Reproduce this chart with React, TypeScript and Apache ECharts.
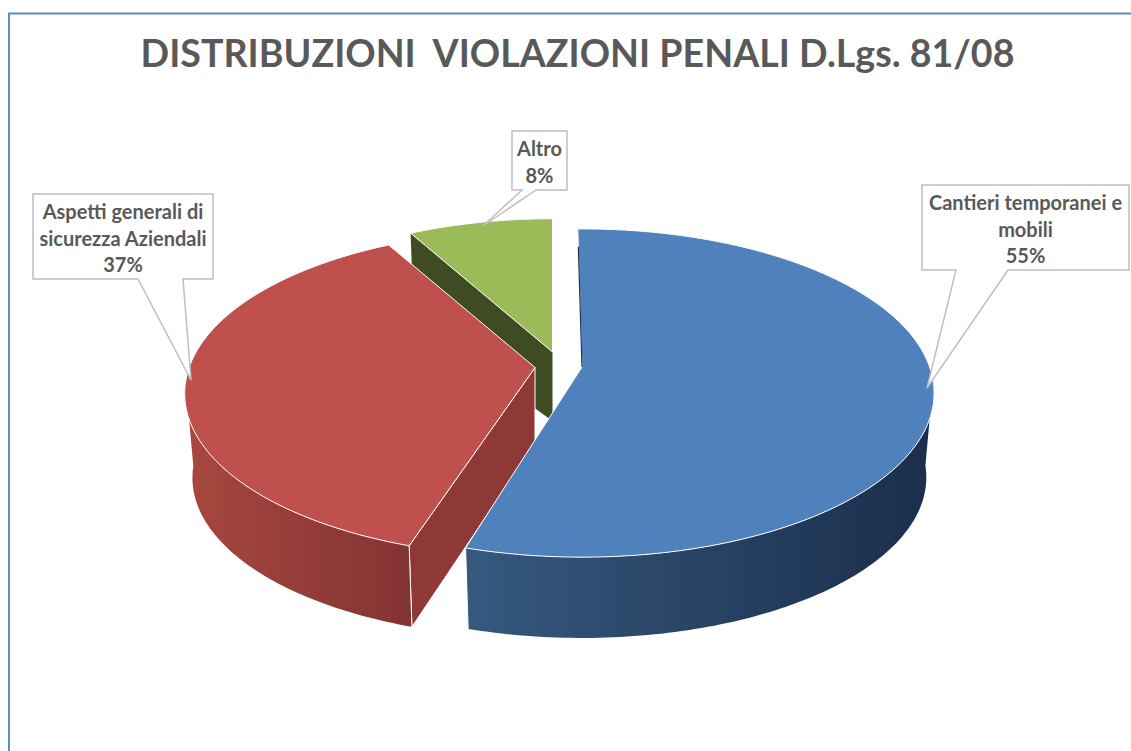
import React, { useEffect, useRef } from "react";
import * as echarts from "echarts";

const titleText = "DISTRIBUZIONI  VIOLAZIONI PENALI D.Lgs. 81/08";
const categories = ["Cantieri temporanei e\nmobili", "Aspetti generali di\nsicurezza Aziendali", "Altro"];
const shares = [55, 37, 8];

const FONT = "Lato";
const TEXT = "#595959";
const topColors = ["#4F81BD", "#C0504D", "#9BBB59"];
const sideColors = [["#36597F", "#1A2E4A"], ["#A8473F", "#833333"], ["#3F4B23", "#3F4B23"]];
const cutColors = ["#1C3150", "#8E3936", "#3F4B23"];

// Projection of the pie: each exploded slice has its own apex on the page.
const apexes = [[582, 367], [535, 367.5], [552.5, 352]];
const scales = [1, 0.995, 0.965];
const apexDrops = [78, 76, 69];
// Small visual trim of a slice's edges, in degrees.
const trims = [[-0.8, -1.5], [0, 0], [0, 0]];
const RX = 347.6, RY = 160, PERSPECTIVE = 0.1585, ARC_DROP = 85, BOTTOM_SCALE = 0.978;

// Visible part of the outer wall, in degrees clockwise from the top.
const wallFrom = [95, 198, 0];
const wallTo = [196.5, 265, 0];

// Callouts: box [x, y, w, h], pointer base x0, x1 and tip.
const boxes = [[922, 185, 207, 85], [33, 194, 180, 85], [512, 131, 55, 59]];
const pointers = [[956, 1008, 927, 388], [138, 183, 191, 380], [522, 536, 483, 226]];

const total = shares.reduce((a, b) => a + b, 0);
const startAngles = shares.map((_, i) => (shares.slice(0, i).reduce((a, b) => a + b, 0) / total) * 360);
const endAngles = shares.map((v, i) => startAngles[i] + (v / total) * 360);

function project(i: number, deg: number, bottom: boolean): number[] {
  const t = (deg * Math.PI) / 180;
  const u = Math.sin(t), v = Math.cos(t);
  const d = 1 + PERSPECTIVE * v;
  const f = scales[i] * (bottom ? BOTTOM_SCALE : 1);
  return [
    apexes[i][0] + (f * RX * u) / d,
    apexes[i][1] + (bottom ? ARC_DROP : 0) - (f * RY * v) / d,
  ];
}
function arc(i: number, a: number, b: number, bottom: boolean): number[][] {
  const n = Math.max(2, Math.ceil(Math.abs(b - a)));
  const pts: number[][] = [];
  for (let k = 0; k <= n; k++) pts.push(project(i, a + ((b - a) * k) / n, bottom));
  return pts;
}

function renderSlice(_: any, api: any) {
  const i = api.value(0) as number;
  const from = startAngles[i] + trims[i][0];
  const to = endAngles[i] + trims[i][1];
  const apex = apexes[i];
  const apexLow = [apex[0], apex[1] + apexDrops[i]];
  const children: any[] = [];
  // cut face seen from the front
  if (i > 0) {
    children.push({
      type: "polygon",
      shape: { points: [project(i, from, false), apex, apexLow, project(i, from, true)] },
      style: { fill: cutColors[i], stroke: "#FFFFFF", lineWidth: i === 1 ? 1 : 0 },
    });
  }
  // outer wall
  if (wallTo[i] > wallFrom[i]) {
    const pts = [...arc(i, wallFrom[i], wallTo[i], false), ...arc(i, wallTo[i], wallFrom[i], true)];
    children.push({
      type: "polygon",
      shape: { points: pts },
      style: {
        fill: new echarts.graphic.LinearGradient(0, 0, 1, 0, [
          { offset: 0, color: sideColors[i][0] },
          { offset: 1, color: sideColors[i][1] },
        ]),
      },
    });
    const seamAngle = i === 0 ? to : from;
    children.push({
      type: "polyline",
      shape: { points: [project(i, seamAngle, false), project(i, seamAngle, true)] },
      style: { stroke: "#FFFFFF", lineWidth: 1, fill: "none" },
    });
  }
  // top face
  children.push({
    type: "polygon",
    shape: { points: [apex, ...arc(i, from, to, false)] },
    style: { fill: topColors[i], stroke: "#FFFFFF", lineWidth: 1 },
  });
  if (i === 0) {
    const top = project(i, from, false);
    const f = 0.87;
    children.push({
      type: "polyline",
      shape: { points: [apex, [apex[0] + (top[0] - apex[0]) * f, apex[1] + (top[1] - apex[1]) * f]] },
      style: { stroke: cutColors[0], lineWidth: 1.2, fill: "none" },
    });
  }
  return { type: "group", children };
}

function renderCallout(_: any, api: any) {
  const i = api.value(0) as number;
  const [x, y, w, h] = boxes[i];
  const [b0, b1, tx, ty] = pointers[i];
  const yB = y + h;
  const outline = [[x, y], [x + w, y], [x + w, yB], [b1, yB], [tx, ty], [b0, yB], [x, yB]];
  const label = `${categories[i]}\n${shares[i]}%`;
  return {
    type: "group",
    children: [
      { type: "polygon", shape: { points: outline }, style: { fill: "#FFFFFF", stroke: "#BFBFBF", lineWidth: 1.5 } },
      {
        type: "text",
        style: {
          text: label,
          x: x + w / 2,
          y: y + h / 2 + 1,
          align: "center",
          verticalAlign: "middle",
          fill: TEXT,
          fontFamily: FONT,
          fontWeight: "bold",
          fontSize: 20,
          lineHeight: 26.5,
        },
      },
    ],
  };
}

export default function App() {
  const ref = useRef<HTMLDivElement>(null);
  useEffect(() => {
    document.body.style.margin = "0";
    const chart = echarts.init(ref.current!, undefined, { renderer: "svg" });
    chart.setOption({
      animation: false,
      backgroundColor: "#FFFFFF",
      title: {
        text: titleText,
        left: 572.5,
        top: 24,
        textAlign: "center",
        textStyle: { fontFamily: FONT, fontWeight: "bold", fontSize: 37.6, color: TEXT, lineHeight: 46 },
      },
      graphic: [
        { type: "rect", shape: { x: 9, y: 13.5, width: 1140, height: 760 }, style: { fill: "none", stroke: "#5B8CC8", lineWidth: 2 }, silent: true },
      ],
      series: [
        {
          type: "custom",
          coordinateSystem: "none",
          renderItem: renderSlice,
          data: [[2, shares[2]], [1, shares[1]], [0, shares[0]]],
          silent: true,
          z: 2,
        },
        {
          type: "custom",
          coordinateSystem: "none",
          renderItem: renderCallout,
          data: [[0, shares[0]], [1, shares[1]], [2, shares[2]]],
          silent: true,
          z: 3,
        },
      ],
    });
    return () => chart.dispose();
  }, []);
  return <div ref={ref} style={{ position: "fixed", left: 0, top: 0, width: 1131, height: 751 }} />;
}
